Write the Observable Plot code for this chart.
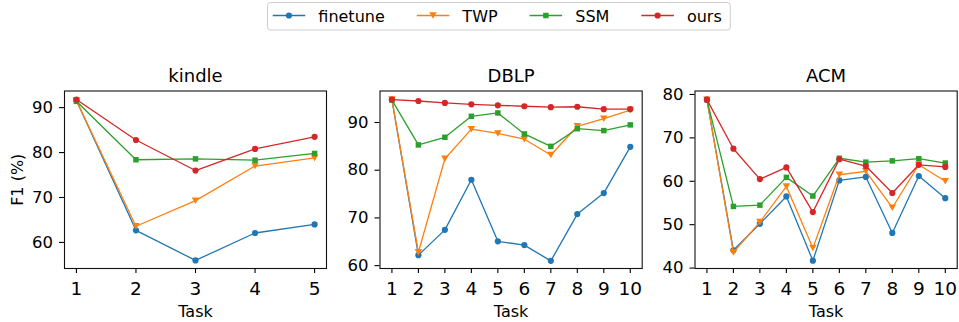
<!DOCTYPE html>
<html>
<head>
<meta charset="utf-8">
<script src="https://cdn.jsdelivr.net/npm/d3@7"></script>
<script src="https://cdn.jsdelivr.net/npm/@observablehq/plot@0.6"></script>
<style>
  html, body { margin: 0; padding: 0; background: white; }
  #root { position: relative; width: 959px; height: 322px; font-family: "DejaVu Sans", sans-serif; }
  .panel { position: absolute; }
  #legend { position: absolute; left: 0; top: 0; }
</style>
</head>
<body>
<div id="root"></div>
<script>
// ---- data ----
const seriesNames = ["finetune", "TWP", "SSM", "ours"];
const seriesColors = ["#1f77b4", "#ff7f0e", "#2ca02c", "#d62728"];

const tasks5 = [1, 2, 3, 4, 5];
const tasks10 = [1, 2, 3, 4, 5, 6, 7, 8, 9, 10];

const kindleFinetune = [91.6, 62.7, 56.0, 62.1, 64.0];
const kindleTWP      = [91.6, 63.6, 69.3, 77.0, 78.8];
const kindleSSM      = [91.4, 78.4, 78.6, 78.3, 79.8];
const kindleOurs     = [91.8, 82.8, 76.0, 80.8, 83.5];

const dblpFinetune = [94.8, 62.2, 67.5, 78.0, 65.1, 64.3, 61.0, 70.8, 75.2, 84.9];
const dblpTWP      = [94.8, 62.8, 82.4, 88.6, 87.7, 86.5, 83.2, 89.2, 90.8, 92.6];
const dblpSSM      = [94.7, 85.3, 86.9, 91.3, 92.0, 87.6, 85.0, 88.7, 88.3, 89.5];
const dblpOurs     = [94.8, 94.5, 94.1, 93.8, 93.6, 93.4, 93.2, 93.3, 92.8, 92.8];

const acmFinetune = [78.8, 44.1, 50.2, 56.5, 41.7, 60.2, 61.0, 48.1, 61.2, 56.1];
const acmTWP      = [78.8, 43.6, 50.6, 58.8, 44.6, 61.5, 62.3, 53.9, 63.8, 60.0];
const acmSSM      = [78.8, 54.2, 54.5, 60.9, 56.6, 65.3, 64.4, 64.7, 65.2, 64.2];
const acmOurs     = [78.8, 67.5, 60.5, 63.2, 52.9, 65.1, 63.5, 57.3, 63.8, 63.3];

const kindleYTicks = [60, 70, 80, 90];
const dblpYTicks = [60, 70, 80, 90];
const acmYTicks = [40, 50, 60, 70, 80];

const yLabel = "F1 (%)";
const xLabel = "Task";

// ---- symbols ----
const triangleDown = {
  draw(context, size) {
    const a = Math.sqrt(4 * size / Math.sqrt(3)) * 0.9;
    const h = a * Math.sqrt(3) / 2;
    context.moveTo(-a / 2, -h / 2);
    context.lineTo(a / 2, -h / 2);
    context.lineTo(0, h / 2);
    context.closePath();
  }
};
const seriesSymbols = ["circle", triangleDown, "square", "circle"];

// ---- panels ----
const panels = [
  {title: "kindle", tasks: tasks5, values: [kindleFinetune, kindleTWP, kindleSSM, kindleOurs],
   xDomain: [0.8, 5.2], yDomain: [54.2, 93.7], yTicks: kindleYTicks,
   left: 0, width: 330, marginLeft: 64, marginRight: 4, showY: true},
  {title: "DBLP", tasks: tasks10, values: [dblpFinetune, dblpTWP, dblpSSM, dblpOurs],
   xDomain: [0.55, 10.45], yDomain: [59.4, 96.6], yTicks: dblpYTicks,
   left: 330, width: 330, marginLeft: 49.5, marginRight: 18.3, showY: false},
  {title: "ACM", tasks: tasks10, values: [acmFinetune, acmTWP, acmSSM, acmOurs],
   xDomain: [0.55, 10.45], yDomain: [39.9, 80.8], yTicks: acmYTicks,
   left: 650, width: 309, marginLeft: 44.5, marginRight: 2.3, showY: false}
];

const root = document.getElementById("root");
const TOP = 55, H = 267;

for (const p of panels) {
  const marks = [
    Plot.frame({stroke: "#111", strokeWidth: 1.1}),
    Plot.axisX({ticks: p.tasks, tickFormat: d => String(d), tickSize: 5, tickPadding: 8.5,
                fontSize: 18.5, label: null, color: "black", strokeWidth: 1.1}),
    Plot.axisY({ticks: p.yTicks, tickFormat: d => String(d), tickSize: 5, tickPadding: 6.5,
                fontSize: 16.5, label: null, color: "black", strokeWidth: 1.1})
  ];
  seriesNames.forEach((s, i) => {
    const rows = p.tasks.map((t, j) => ({task: t, value: p.values[i][j], series: s}));
    marks.push(Plot.line(rows, {x: "task", y: "value", stroke: seriesColors[i], strokeWidth: 1.3}));
    marks.push(Plot.dot(rows, {x: "task", y: "value", fill: seriesColors[i], stroke: "none",
                               r: 3.1, symbol: seriesSymbols[i]}));
  });
  marks.push(Plot.text([p.title], {frameAnchor: "top", text: d => d, dy: -9.5, lineAnchor: "bottom",
                                   fontSize: 18, fill: "black"}));
  marks.push(Plot.text([xLabel], {frameAnchor: "bottom", text: d => d, dy: 48.5, lineAnchor: "bottom",
                                  fontSize: 16, fill: "black"}));
  if (p.showY) {
    marks.push(Plot.text([yLabel], {frameAnchor: "left", text: d => d, dx: -47, rotate: -90,
                                    lineAnchor: "middle", textAnchor: "middle", fontSize: 16, fill: "black"}));
  }
  const chart = Plot.plot({
    width: p.width, height: H,
    marginLeft: p.marginLeft, marginRight: p.marginRight, marginTop: 35.5, marginBottom: 54,
    x: {domain: p.xDomain},
    y: {domain: p.yDomain},
    style: {fontFamily: "DejaVu Sans", background: "transparent", overflow: "visible", color: "black"},
    marks
  });
  chart.classList.add("panel");
  chart.style.left = p.left + "px";
  chart.style.top = TOP + "px";
  root.appendChild(chart);
}

// ---- legend ----
const legend = d3.select(root).append("svg").attr("id", "legend")
  .attr("width", 959).attr("height", 40)
  .style("font-family", "DejaVu Sans");
const box = legend.append("rect")
  .attr("x", 267.5).attr("y", 2.5).attr("height", 27.5).attr("rx", 3)
  .attr("fill", "white").attr("stroke", "#cccccc").attr("stroke-width", 1);
let lx = 272.7;
seriesNames.forEach((s, i) => {
  const g = legend.append("g");
  g.append("line").attr("x1", lx).attr("x2", lx + 32.5).attr("y1", 15.5).attr("y2", 15.5)
    .attr("stroke", seriesColors[i]).attr("stroke-width", 1.3);
  const sym = typeof seriesSymbols[i] === "string"
    ? (seriesSymbols[i] === "square" ? d3.symbolSquare : d3.symbolCircle)
    : seriesSymbols[i];
  g.append("path").attr("d", d3.symbol(sym, Math.PI * 3.1 * 3.1)())
    .attr("transform", `translate(${lx + 16.25},15.5)`).attr("fill", seriesColors[i]);
  const t = g.append("text").attr("x", lx + 45.6).attr("y", 21.5).attr("font-size", 16)
    .attr("fill", "black").text(s);
  const w = t.node().getComputedTextLength();
  lx = lx + 45.6 + w + 32;
});
box.attr("width", lx - 32 + 8.5 - 267.5);
</script>
</body>
</html>
